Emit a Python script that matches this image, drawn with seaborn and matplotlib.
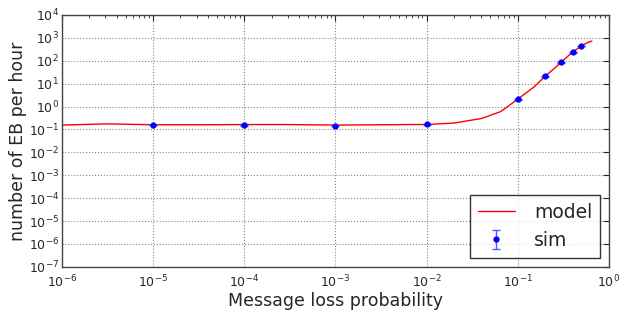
from matplotlib import pyplot as plt
import seaborn as sns
import numpy as np

model_p = [1e-6, 3.16e-6, 1e-5, 3.16e-5, 1e-4, 3.16e-4, 1e-3, 3.16e-3, 1e-2,
           0.02, 0.04, 0.065, 0.1, 0.15, 0.2, 0.25, 0.3, 0.35, 0.4, 0.45,
           0.5, 0.55, 0.6, 0.65]
model_eb = [0.155, 0.175, 0.16, 0.16, 0.163, 0.163, 0.155, 0.16, 0.165,
            0.19, 0.3, 0.6, 2.1, 7.0, 21, 45, 86, 150, 235, 330,
            440, 550, 650, 720]

sim_p = [1e-5, 1e-4, 1e-3, 1e-2, 0.1, 0.2, 0.3, 0.4, 0.5]
sim_eb = [0.158, 0.15, 0.147, 0.165, 2.1, 21, 86, 235, 440]
sim_err = [0.005, 0.005, 0.005, 0.005, 0.1, 1, 4, 10, 20]


def plot():
    sns.set_style('white')
    plt.rcParams['font.family'] = ['DejaVu Sans']
    fig = plt.figure(figsize=(6.31, 3.10), dpi=100)
    ax = fig.add_axes([0.098, 0.139, 0.867, 0.813])

    sns.lineplot(x=model_p, y=model_eb, color='red', linewidth=1,
                 label='model', ax=ax, estimator=None, sort=False)
    ax.errorbar(sim_p, sim_eb, yerr=sim_err, fmt='o', color='blue',
                ecolor='#5555ff', markersize=3.5, elinewidth=1, capsize=3,
                label='sim')

    ax.set_xscale('log')
    ax.set_yscale('log')
    ax.set_xlim(1e-6, 1)
    ax.set_ylim(1e-7, 1e4)
    ax.set_xticks([10.0 ** k for k in range(-6, 1)])
    ax.set_yticks([10.0 ** k for k in range(-7, 5)])
    ax.grid(True, which='major', linestyle=':', color='#888888', linewidth=0.8)
    ax.tick_params(which='both', direction='in', top=True, right=True,
                   labelsize=9)
    ax.tick_params(which='major', length=4)
    ax.tick_params(which='minor', length=2)
    ax.tick_params(axis='x', pad=5)
    ax.tick_params(axis='y', pad=2)
    for s in ax.spines.values():
        s.set_color('#444444')
        s.set_linewidth(1)

    ax.set_xlabel('Message loss probability', fontsize=12.5, labelpad=1)
    ax.set_ylabel('number of EB per hour', fontsize=12.5)
    ax.yaxis.set_label_coords(-0.064, 0.5)

    leg = ax.legend(loc='lower right', fontsize=13.5, frameon=True,
                    fancybox=False, edgecolor='black', handlelength=2.0,
                    borderaxespad=0.5, handletextpad=1.0)
    leg.get_frame().set_linewidth(1)

    plt.savefig('out.png', dpi=100)


if __name__ == "__main__":
    plot()
